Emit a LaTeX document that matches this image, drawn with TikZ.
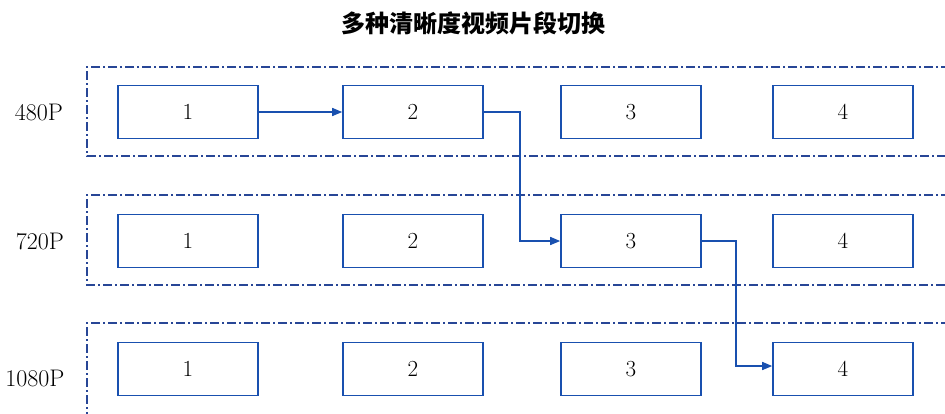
\documentclass[tikz,border=0pt]{standalone}
\usepackage{fontspec}
\newfontfamily\cjk{Noto Sans CJK SC}
\usetikzlibrary{arrows.meta}
\definecolor{lineblue}{RGB}{25,80,175}
\definecolor{bandblue}{RGB}{40,70,150}
\tikzset{
  seg/.style={draw=lineblue, line width=1.6pt, minimum width=140pt, minimum height=53pt, inner sep=0pt, font=\fontsize{23}{23}\selectfont},
  band/.style={draw=bandblue, line width=1.7pt, dash pattern=on 9pt off 3pt on 2pt off 3pt},
  link/.style={draw=lineblue, line width=1.5pt, -{Triangle[length=10pt,width=8pt]}},
  res/.style={font=\fontsize{24}{24}\selectfont, inner sep=0pt}
}
\begin{document}
\begin{tikzpicture}[x=1pt,y=-1pt]
\useasboundingbox (0,0) rectangle (945,413);
\fill[white] (0,0) rectangle (945,413);
\node[font=\cjk\bfseries\fontsize{24}{24}\selectfont] (title) at (473,23) {多种清晰度视频片段切换};
% bands
\draw[band] (950,67) -- (87,67) -- (87,156) -- (950,156);
\draw[band] (950,195) -- (87,195) -- (87,285) -- (950,285);
\draw[band] (950,323) -- (87,323) -- (87,420);
% labels
\node[res] (l480) at (39,112) {480P};
\node[res] (l720) at (40,241) {720P};
\node[res] (l1080) at (35,378) {1080P};
% boxes
\foreach \r/\y in {a/112,b/241,c/369}{
  \node[seg] (\r1) at (188,\y) {1};
  \node[seg] (\r2) at (413,\y) {2};
  \node[seg] (\r3) at (631,\y) {3};
  \node[seg] (\r4) at (843,\y) {4};
}
% connectors
\draw[link] (a1.east) -- (a2.west);
\draw[link] (a2.east) -- ++(36,0) |- (b3.west);
\draw[link] (b3.east) -- ++(34,0) |- ([yshift=3pt]c4.west);
\end{tikzpicture}
\end{document}
